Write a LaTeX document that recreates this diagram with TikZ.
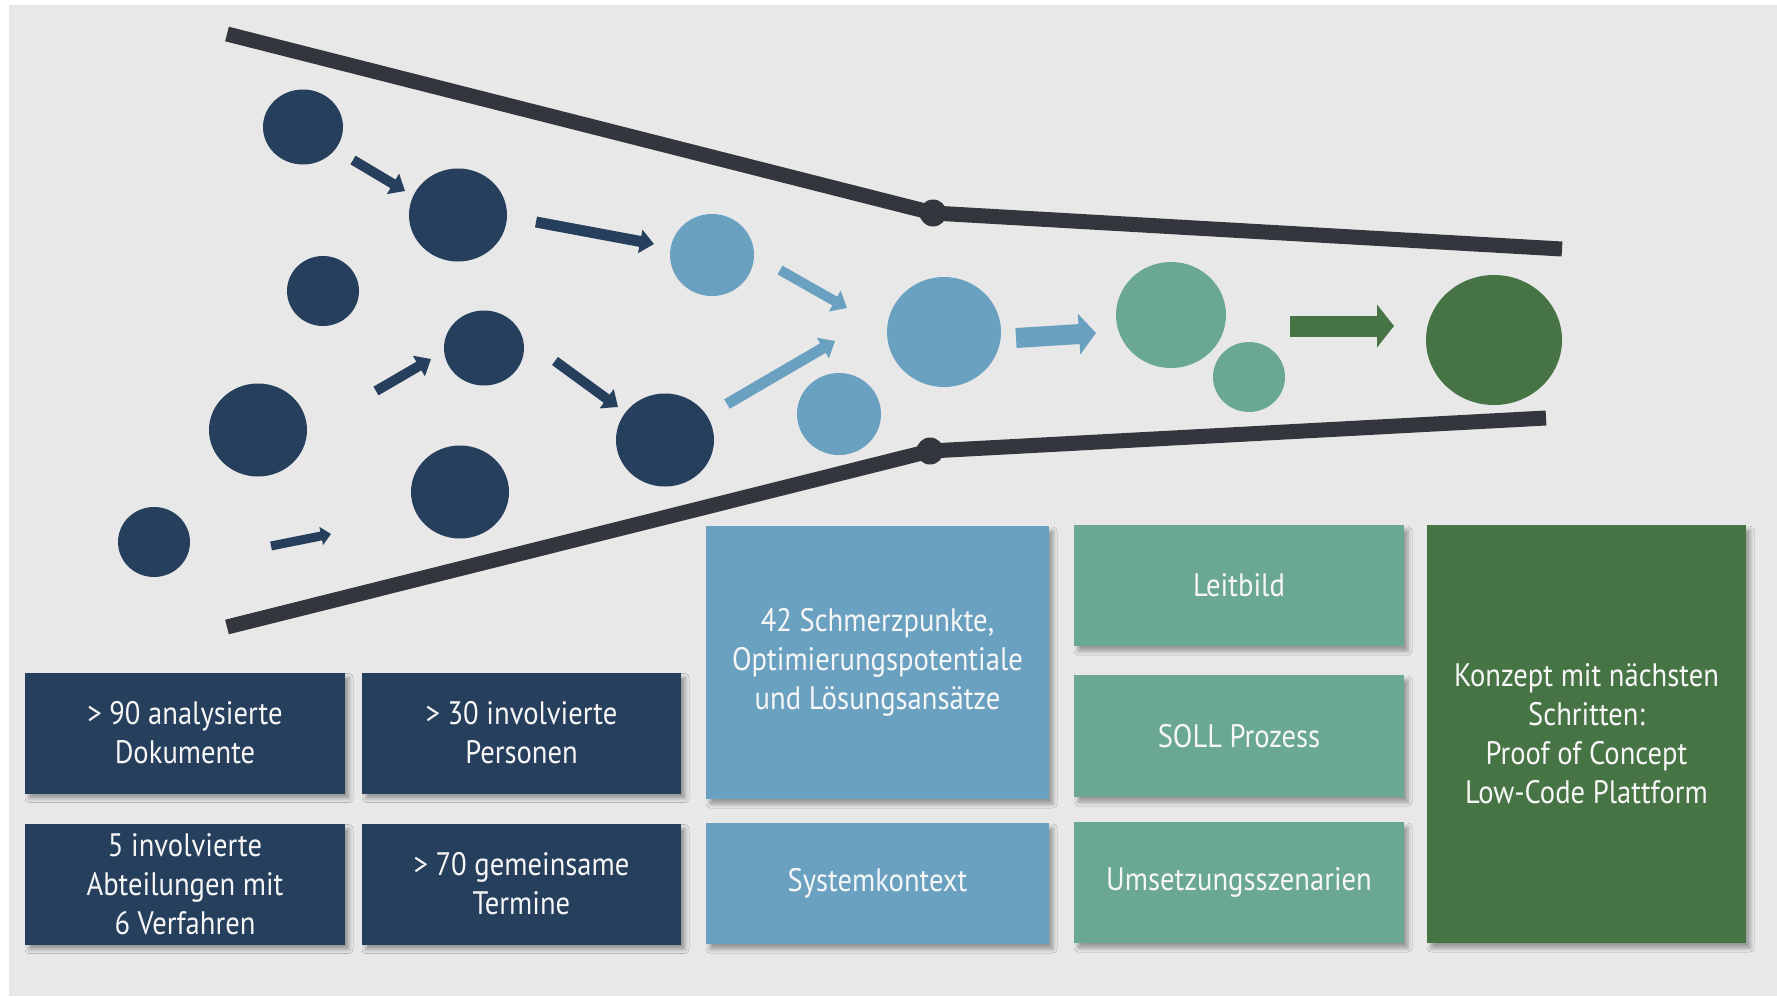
\documentclass[tikz,border=0pt]{standalone}
\usepackage{fontspec}
\setmainfont{PT Sans}[FakeStretch=0.88]
\usetikzlibrary{arrows.meta,shapes.geometric,shadows.blur}
\definecolor{navy}{HTML}{263F5D}
\definecolor{skyblue}{HTML}{6AA1C1}
\definecolor{teal}{HTML}{6BA892}
\definecolor{forest}{HTML}{467444}
\definecolor{funnel}{HTML}{33363C}
\definecolor{canvas}{HTML}{E8E8E8}
\definecolor{label}{HTML}{F6F6F6}
\tikzset{
  dot/.style={ellipse, inner sep=0pt, draw=none},
  tile/.style={rectangle, draw=none, inner sep=0pt, text=label, align=center,
    font=\fontsize{32.5}{39}\selectfont,
    blur shadow={shadow xshift=4pt, shadow yshift=-5pt, shadow blur radius=4pt, shadow opacity=35}},
  wall/.style={line width=15pt, draw=funnel},
  joint/.style={circle, fill=funnel, inner sep=0pt, minimum size=27pt},
  smallarr/.style={line width=10pt, -{Triangle[length=14pt,width=23pt]}},
  bigarr/.style={line width=21pt, -{Triangle[length=17pt,width=42pt]}}
}
\begin{document}
\begin{tikzpicture}[x=1pt,y=-1pt]
\useasboundingbox (0,0) rectangle (1777,996);
\fill[white] (0,0) rectangle (1777,996);
\fill[canvas] (9,5) rectangle (1777,996);

% funnel walls
\node[joint] (jt) at (933,213) {};
\node[joint] (jb) at (930,451) {};
\coordinate (tl) at (227,34);
\coordinate (tr) at (1562,249);
\coordinate (bl) at (227,627);
\coordinate (br) at (1546,418);
\draw[wall] (tl) -- (jt.center) -- (tr);
\draw[wall] (bl) -- (jb.center) -- (br);

% input circles
\node[dot, fill=navy, minimum width=80pt, minimum height=75pt] (c1) at (303,127) {};
\node[dot, fill=navy, minimum width=98pt, minimum height=93pt] (c2) at (458,215) {};
\node[dot, fill=navy, minimum width=72pt, minimum height=70pt] (c3) at (323,291) {};
\node[dot, fill=navy, minimum width=80pt, minimum height=75pt] (c4) at (484,348) {};
\node[dot, fill=navy, minimum width=98pt, minimum height=93pt] (c5) at (258,430) {};
\node[dot, fill=navy, minimum width=98pt, minimum height=93pt] (c6) at (665,440) {};
\node[dot, fill=navy, minimum width=98pt, minimum height=93pt] (c7) at (460,492) {};
\node[dot, fill=navy, minimum width=72pt, minimum height=70pt] (c8) at (154,542) {};
% analysis circles
\node[dot, fill=skyblue, minimum width=84pt, minimum height=82pt] (c9) at (712,255) {};
\node[dot, fill=skyblue, minimum width=84pt, minimum height=82pt] (c10) at (839,414) {};
\node[dot, fill=skyblue, minimum width=114pt, minimum height=110pt] (c11) at (944,332) {};
% target circles
\node[dot, fill=teal, minimum width=110pt, minimum height=106pt] (c12) at (1171,315) {};
\node[dot, fill=teal, minimum width=72pt, minimum height=70pt] (c13) at (1249,377) {};
\node[dot, fill=forest, minimum width=136pt, minimum height=130pt] (c14) at (1494,340) {};

% arrow end points
\coordinate (a1s) at (353,160); \coordinate (a1e) at (405,191);
\coordinate (a2s) at (536,222); \coordinate (a2e) at (654,244);
\coordinate (a3s) at (376,391); \coordinate (a3e) at (431,359);
\coordinate (a4s) at (555,361); \coordinate (a4e) at (618,407);
\coordinate (a5s) at (271,546); \coordinate (a5e) at (331,534);
\coordinate (a6s) at (780,270); \coordinate (a6e) at (847,308);
\coordinate (a7s) at (727,404); \coordinate (a7e) at (835,341);
\coordinate (a8s) at (1016,338); \coordinate (a8e) at (1096,333);
\coordinate (a9s) at (1290,326); \coordinate (a9e) at (1394,326);

\draw[smallarr, navy] (a1s) -- (a1e);
\draw[smallarr, navy, line width=11pt] (a2s) -- (a2e);
\draw[smallarr, navy] (a3s) -- (a3e);
\draw[smallarr, navy] (a4s) -- (a4e);
\draw[navy, line width=9pt, -{Triangle[length=10pt,width=18pt]}] (a5s) -- (a5e);
\draw[smallarr, skyblue] (a6s) -- (a6e);
\draw[smallarr, skyblue, line width=11pt] (a7s) -- (a7e);
\draw[bigarr, skyblue, line width=20pt, -{Triangle[length=17pt,width=40pt]}] (a8s) -- (a8e);
\draw[bigarr, forest] (a9s) -- (a9e);

% result tiles
\node[tile, fill=navy, minimum width=320pt, minimum height=121pt] (b1) at (185,733) {> 90 analysierte\\Dokumente};
\node[tile, fill=navy, minimum width=319pt, minimum height=121pt] (b2) at (521.5,733) {> 30 involvierte\\Personen};
\node[tile, fill=navy, minimum width=320pt, minimum height=121pt] (b3) at (185,884) {5 involvierte\\Abteilungen mit\\6 Verfahren};
\node[tile, fill=navy, minimum width=319pt, minimum height=121pt] (b4) at (521.5,884) {> 70 gemeinsame\\Termine};
\node[tile, fill=skyblue, minimum width=343pt, minimum height=273pt] (b5) at (877.5,662.5) {42 Schmerzpunkte,\\Optimierungspotentiale\\und Lösungsansätze};
\node[tile, fill=skyblue, minimum width=343pt, minimum height=121pt] (b6) at (877.5,883.5) {Systemkontext};
\node[tile, fill=teal, minimum width=330pt, minimum height=121pt] (b7) at (1239,585.5) {Leitbild};
\node[tile, fill=teal, minimum width=330pt, minimum height=122pt] (b8) at (1239,736) {SOLL Prozess};
\node[tile, fill=teal, minimum width=330pt, minimum height=121pt] (b9) at (1239,882.5) {Umsetzungsszenarien};
\node[tile, fill=forest, minimum width=319pt, minimum height=418pt] (b10) at (1586.5,734) {Konzept mit nächsten\\Schritten:\\Proof of Concept\\Low-Code Plattform};
\end{tikzpicture}
\end{document}
